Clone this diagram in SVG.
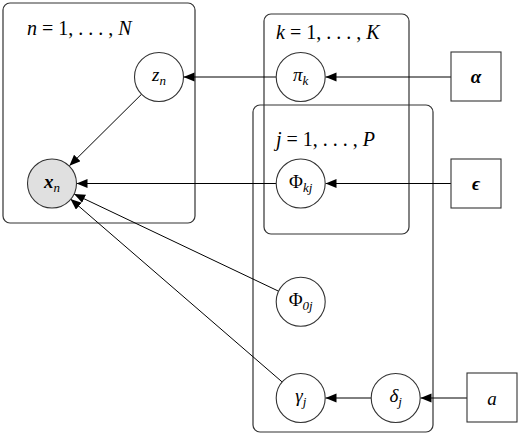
<svg xmlns="http://www.w3.org/2000/svg" width="520" height="436" viewBox="0 0 520 436" font-family="'Liberation Serif', 'DejaVu Serif', serif">
<defs>
<marker id="ah" markerUnits="userSpaceOnUse" markerWidth="12" markerHeight="10" refX="11" refY="4.5" orient="auto">
<path d="M0,0 L11,4.5 L0,9 Z" fill="#000"/>
</marker>
<style>
.plate{fill:none;stroke:#333;stroke-width:1.2}
.node{fill:#fff;stroke:#333;stroke-width:1.1}
.obs{fill:#e0e0e0;stroke:#333;stroke-width:1.1}
.box{fill:#fff;stroke:#333;stroke-width:1.1}
.edge{stroke:#000;stroke-width:1;fill:none;marker-end:url(#ah)}
text{fill:#000}
.lbl{font-size:20px}
.m{font-style:italic}
.b{font-weight:bold;font-style:italic}
.sub{font-size:13px;font-style:italic}
.nl{font-size:19px;text-anchor:middle}
</style>
</defs>
<g id="plate-n"><rect class="plate" x="3" y="3" width="192" height="220" rx="7"/>
<text class="lbl" x="27" y="35"><tspan class="m">n</tspan> = 1, . . . , <tspan class="m">N</tspan></text></g>
<g id="plate-k"><rect class="plate" x="264" y="14" width="145" height="220" rx="7"/>
<text class="lbl" x="276" y="39"><tspan class="m">k</tspan> = 1, . . . , <tspan class="m">K</tspan></text></g>
<g id="plate-j"><rect class="plate" x="253" y="105" width="180" height="327" rx="7"/>
<text class="lbl" x="276" y="146"><tspan class="m">j</tspan> = 1, . . . , <tspan class="m">P</tspan></text></g>
<g id="connectors">
<line class="edge" x1="141.6" y1="94.2" x2="69.4" y2="165.8"/>
<line class="edge" x1="276" y1="77" x2="183.5" y2="77"/>
<line class="edge" x1="451" y1="77" x2="325.5" y2="77"/>
<line class="edge" x1="276" y1="183.5" x2="76.5" y2="183.5"/>
<line class="edge" x1="451" y1="183.5" x2="325.5" y2="183.5"/>
<line class="edge" x1="278.6" y1="291.2" x2="74.1" y2="194"/>
<line class="edge" x1="282.2" y1="382" x2="70.5" y2="199"/>
<line class="edge" x1="371" y1="398" x2="325.5" y2="398"/>
<line class="edge" x1="467" y1="398" x2="420.5" y2="398"/>
</g>
<g id="z_n"><circle class="node" cx="159" cy="77" r="24.5"/>
<text class="nl" x="159" y="81"><tspan class="m">z</tspan><tspan class="sub" dy="4">n</tspan></text></g>
<g id="x_n"><circle class="obs" cx="52" cy="183.5" r="24.5"/>
<text class="nl" x="52" y="188"><tspan class="b">x</tspan><tspan class="sub" dy="4">n</tspan></text></g>
<g id="pi_k"><circle class="node" cx="300.7" cy="77" r="24.5"/>
<text class="nl" x="300.7" y="81"><tspan class="m">π</tspan><tspan class="sub" dy="4">k</tspan></text></g>
<g id="Phi_kj"><circle class="node" cx="300.7" cy="183.5" r="24.5"/>
<text class="nl" x="300.7" y="188">Φ<tspan class="sub" dy="4">kj</tspan></text></g>
<g id="Phi_0j"><circle class="node" cx="300.7" cy="301.7" r="24.5"/>
<text class="nl" x="300.7" y="306">Φ<tspan class="sub" dy="4" font-style="normal">0</tspan><tspan class="sub">j</tspan></text></g>
<g id="gamma_j"><circle class="node" cx="300.7" cy="398" r="24.5"/>
<text class="nl" x="300.7" y="402"><tspan class="m">γ</tspan><tspan class="sub" dy="4">j</tspan></text></g>
<g id="delta_j"><circle class="node" cx="395.7" cy="398" r="24.5"/>
<text class="nl" x="395.7" y="402"><tspan class="m">δ</tspan><tspan class="sub" dy="4">j</tspan></text></g>
<g id="alpha"><rect class="box" x="451" y="52" width="50" height="49"/>
<text class="nl" x="476" y="83" font-size="22"><tspan class="b">α</tspan></text></g>
<g id="epsilon"><rect class="box" x="451" y="159" width="50" height="49"/>
<text class="nl" x="476" y="190" font-size="22"><tspan class="b">ϵ</tspan></text></g>
<g id="a"><rect class="box" x="467" y="373" width="50" height="49"/>
<text class="nl" x="492" y="405" font-size="22"><tspan class="m">a</tspan></text></g>
</svg>
